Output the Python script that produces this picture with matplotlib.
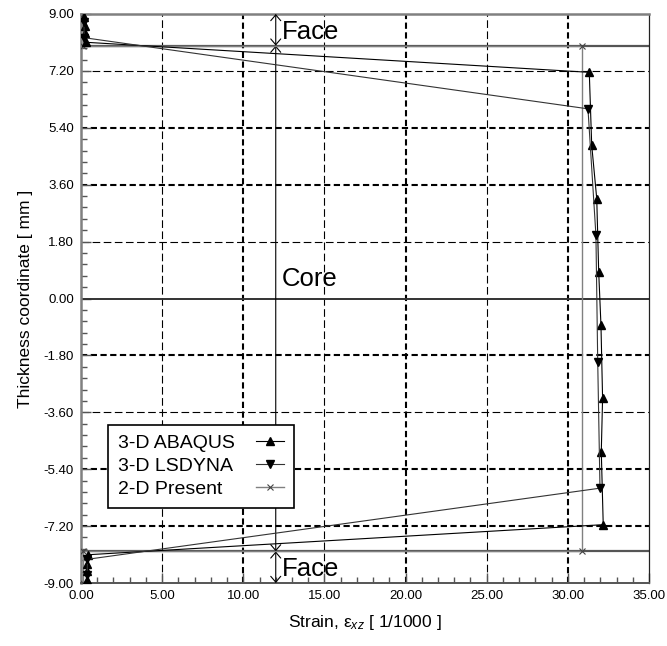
import matplotlib
matplotlib.use("Agg")
import matplotlib.pyplot as plt
from matplotlib.ticker import MultipleLocator, FixedLocator
from matplotlib.transforms import Bbox

plt.rcParams['font.family'] = ['Liberation Sans', 'DejaVu Sans']
plt.rcParams['mathtext.fontset'] = 'custom'
plt.rcParams['mathtext.rm'] = 'Liberation Sans'
plt.rcParams['mathtext.it'] = 'Liberation Sans:italic'
plt.rcParams['lines.scale_dashes'] = False

# ---- data ----
abaqus_strain = [0.20, 0.22, 0.25, 0.28, 31.32, 31.47, 31.78, 31.90, 32.04, 32.14, 32.06, 32.18,
                 0.42, 0.40, 0.38, 0.40]
abaqus_z = [8.894, 8.606, 8.394, 8.106, 7.155, 4.845, 3.155, 0.845, -0.845, -3.155, -4.845, -7.155,
            -8.106, -8.394, -8.606, -8.894]
lsdyna_strain = [0.18, 0.20, 31.24, 31.73, 31.84, 31.98, 0.40, 0.38]
lsdyna_z = [8.75, 8.25, 6.0, 2.0, -2.0, -6.0, -8.25, -8.75]
present_strain = [0.10, 0.10, 30.87, 30.87, 0.10, 0.10]
present_z = [9.0, 8.0, 8.0, -8.0, -8.0, -9.0]

series_labels = ['3-D ABAQUS', '3-D LSDYNA', '2-D Present']
x_ticks = [0, 5, 10, 15, 20, 25, 30, 35]
x_tick_labels = ['0.00', '5.00', '10.00', '15.00', '20.00', '25.00', '30.00', '35.00']
y_ticks = [9.0, 7.2, 5.4, 3.6, 1.8, 0.0, -1.8, -3.6, -5.4, -7.2, -9.0]
y_tick_labels = ['9.00', '7.20', '5.40', '3.60', '1.80', '0.00', '-1.80', '-3.60', '-5.40', '-7.20', '-9.00']
grid_x_thin = [5, 15, 25]
grid_x_thick = [10, 20, 30]
grid_y_thin = [7.2, 1.8, -3.6]
grid_y_thick = [5.4, 3.6, -1.8, -5.4, -7.2]
face_z = [8.0, -8.0]
core_z = 0.0
face_top = 9.0
face_bottom = -9.0
arrow_x = 12.0
text_x = 12.35

fig = plt.figure(figsize=(6.67, 6.46), dpi=100)
ax = fig.add_axes([81/667, 1-583/646, 568/667, 569/646])
ax.set_xlim(0, 35)
ax.set_ylim(-9, 9)

# grid
for gx in grid_x_thin:
    ax.axvline(gx, color='black', lw=0.8, ls=(0, (5.5, 2.5)), zorder=1)
for gx in grid_x_thick:
    ax.axvline(gx, color='black', lw=1.5, ls=(0, (4.5, 2.5)), zorder=1)
for gy in grid_y_thin:
    ax.axhline(gy, color='black', lw=0.8, ls=(0, (5.5, 2.5)), zorder=1)
for gy in grid_y_thick:
    ax.axhline(gy, color='black', lw=1.5, ls=(0, (4.5, 2.5)), zorder=1)

# face / core lines
for fz in face_z:
    ax.axhline(fz, color='#555555', lw=1.6, zorder=2)
ax.axhline(core_z, color='#333333', lw=1.4, zorder=2)

# arrows
arrow_kw = dict(arrowstyle='<->,head_length=0.35,head_width=0.3', color='black', lw=0.8,
                shrinkA=0, shrinkB=0, mutation_scale=12)
ax.annotate('', xy=(arrow_x, face_z[0]), xytext=(arrow_x, face_top), arrowprops=arrow_kw)
ax.annotate('', xy=(arrow_x, face_z[1]), xytext=(arrow_x, face_z[0]), arrowprops=arrow_kw)
ax.annotate('', xy=(arrow_x, face_bottom), xytext=(arrow_x, face_z[1]), arrowprops=arrow_kw)

ax.text(text_x, 8.2, 'Face', fontsize=18.5, va='baseline', ha='left')
ax.text(text_x, 0.38, 'Core', fontsize=18.5, va='baseline', ha='left')
ax.text(text_x, -8.78, 'Face', fontsize=18.5, va='baseline', ha='left')

# series
ax.plot(abaqus_strain, abaqus_z, color='black', lw=0.8, marker='^', ms=5.5,
        mfc='black', mec='black', label=series_labels[0], zorder=4)
ax.plot(lsdyna_strain, lsdyna_z, color='#333333', lw=0.8, marker='v', ms=5.5,
        mfc='black', mec='black', label=series_labels[1], zorder=4)
ax.plot(present_strain, present_z, color='#808080', lw=1.0, marker='x', ms=5,
        mec='#444444', mew=0.8, label=series_labels[2], zorder=3)

# axes / ticks
ax.xaxis.set_major_locator(FixedLocator(x_ticks))
ax.set_xticklabels(x_tick_labels)
ax.yaxis.set_major_locator(FixedLocator(y_ticks))
ax.set_yticklabels(y_tick_labels)
ax.xaxis.set_minor_locator(MultipleLocator(1.0))
ax.yaxis.set_minor_locator(MultipleLocator(0.36))
ax.tick_params(which='both', direction='in', color='#555555', labelsize=9.5, top=False, right=False)
ax.tick_params(which='major', length=7, width=1.0, pad=5)
ax.tick_params(which='minor', length=4, width=1.0)

ax.spines['left'].set_color('#808080')
ax.spines['left'].set_linewidth(1.8)
ax.spines['top'].set_color('#808080')
ax.spines['top'].set_linewidth(1.8)
ax.spines['right'].set_color('#222222')
ax.spines['right'].set_linewidth(0.9)
ax.spines['bottom'].set_color('#555555')
ax.spines['bottom'].set_linewidth(1.4)

ax.set_xlabel(r'Strain, $\mathrm{ε}_{xz}$ [ 1/1000 ]', fontsize=12.5, labelpad=8)
ax.set_ylabel('Thickness coordinate [ mm ]', fontsize=12.5, labelpad=8)

leg = ax.legend(loc='lower left', bbox_to_anchor=(0.0475, 0.132), borderaxespad=0,
                markerfirst=False, fontsize=14, frameon=True, fancybox=False,
                edgecolor='black', framealpha=1, handlelength=1.45, handletextpad=1.1,
                labelspacing=0.28, borderpad=0.5)
leg.get_frame().set_linewidth(1.2)
leg.set_zorder(5)

# left-align the legend texts (handles placed after text)
try:
    text_areas = []
    for col in leg._legend_handle_box.get_children():
        for item in col.get_children():
            text_areas.append(item.get_children()[0])
    orig_bbox = [ta.get_bbox for ta in text_areas]

    def make_bbox(i):
        def new_bbox(renderer):
            boxes = [o(renderer) for o in orig_bbox]
            b = orig_bbox[i](renderer)
            return Bbox.from_bounds(b.x0, b.y0, max(x.width for x in boxes), b.height)
        return new_bbox

    for i, ta in enumerate(text_areas):
        ta.get_bbox = make_bbox(i)
except Exception:
    pass

fig.savefig('out.png', dpi=100)
